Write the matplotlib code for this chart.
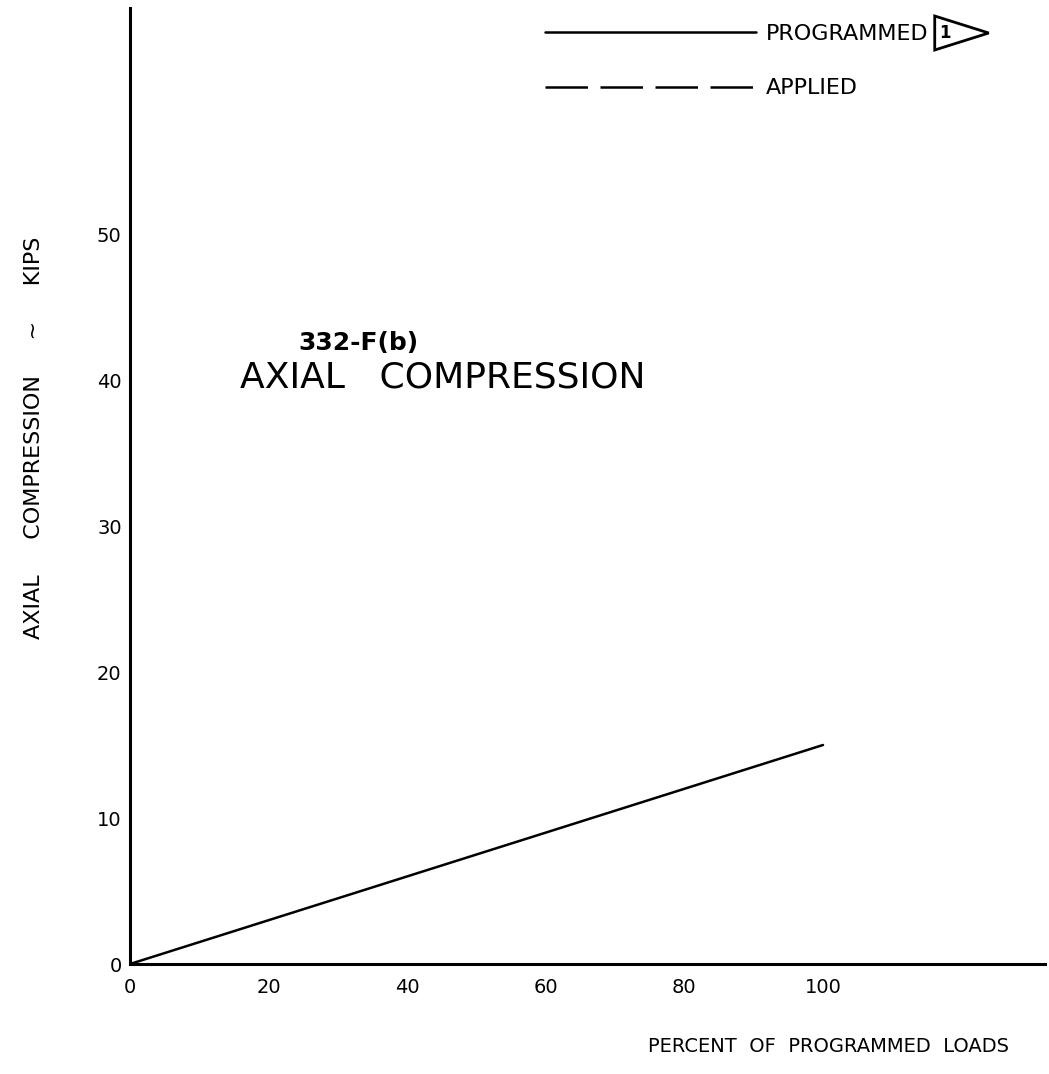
import matplotlib
matplotlib.use('Agg')
import matplotlib.pyplot as plt
from matplotlib.patches import Polygon

## data
pct_programmed = [0, 100]
kips_programmed = [0, 15]
pct_applied = []      # legend entry only, no applied curve drawn
kips_applied = []
xticks = [0, 20, 40, 60, 80, 100]
yticks = [0, 10, 20, 30, 40, 50]

plt.rcParams['font.family'] = ['DejaVu Sans']

fig = plt.figure(figsize=(10.49, 10.74), dpi=100)
fw, fh = 1049, 1074
## axes box: spine at x=130, x-axis at y=964, top at y=8, right edge at x=1045
ax = fig.add_axes([130/fw, (fh-964)/fh, 915/fw, 956/fh])
ax.set_xlim(0, 915/6.93)
ax.set_ylim(0, 956/14.6)

ax.plot(pct_programmed, kips_programmed, color='black', lw=1.8, solid_capstyle='round',
        label='PROGRAMMED')
ax.plot(pct_applied, kips_applied, color='black', lw=1.8, ls=(0, (17, 5)), label='APPLIED')

for side in ['top', 'right']:
    ax.spines[side].set_visible(False)
for side in ['left', 'bottom']:
    ax.spines[side].set_linewidth(2.2)

ax.set_xticks(xticks)
ax.set_yticks(yticks)
ax.set_xticklabels([str(v) for v in xticks], fontsize=14)
ax.set_yticklabels([str(v) for v in yticks], fontsize=14)
ax.tick_params(axis='x', length=0, pad=10)
ax.tick_params(axis='y', length=0, pad=6)

ax.set_xlabel('PERCENT  OF  PROGRAMMED  LOADS', fontsize=14)
ax.xaxis.set_label_coords(0.763, -0.076)
ax.set_ylabel('AXIAL     COMPRESSION     ~     KIPS', fontsize=16)
ax.yaxis.set_label_coords(-0.094, 0.55)

ax.text(0.250, 0.650, '332-F(b)', transform=ax.transAxes, fontsize=18, fontweight='bold',
        ha='center', va='center')
ax.text(0.342, 0.614, 'AXIAL   COMPRESSION', transform=ax.transAxes, fontsize=26,
        ha='center', va='center')

leg = ax.legend(loc='upper left', bbox_to_anchor=(545/fw, 1-24/fh),
                bbox_transform=fig.transFigure, frameon=False, fontsize=16,
                borderpad=0, borderaxespad=0, handlelength=9.5, handletextpad=0.45,
                labelspacing=1.55)

## triangle note symbol after "PROGRAMMED"
fig.canvas.draw()
bb = leg.get_texts()[0].get_window_extent()
x0 = bb.x1 + 6
yc = (bb.y0 + bb.y1) / 2 + 1
tri = Polygon([[x0/fw, (yc+17)/fh], [(x0+54)/fw, yc/fh], [x0/fw, (yc-17)/fh]],
              closed=True, fill=False, lw=2, edgecolor='black', transform=fig.transFigure)
fig.add_artist(tri)
fig.text((x0+10)/fw, yc/fh, '1', fontsize=12, fontweight='bold', ha='center', va='center')

fig.savefig('out.png', dpi=100, facecolor='white')
